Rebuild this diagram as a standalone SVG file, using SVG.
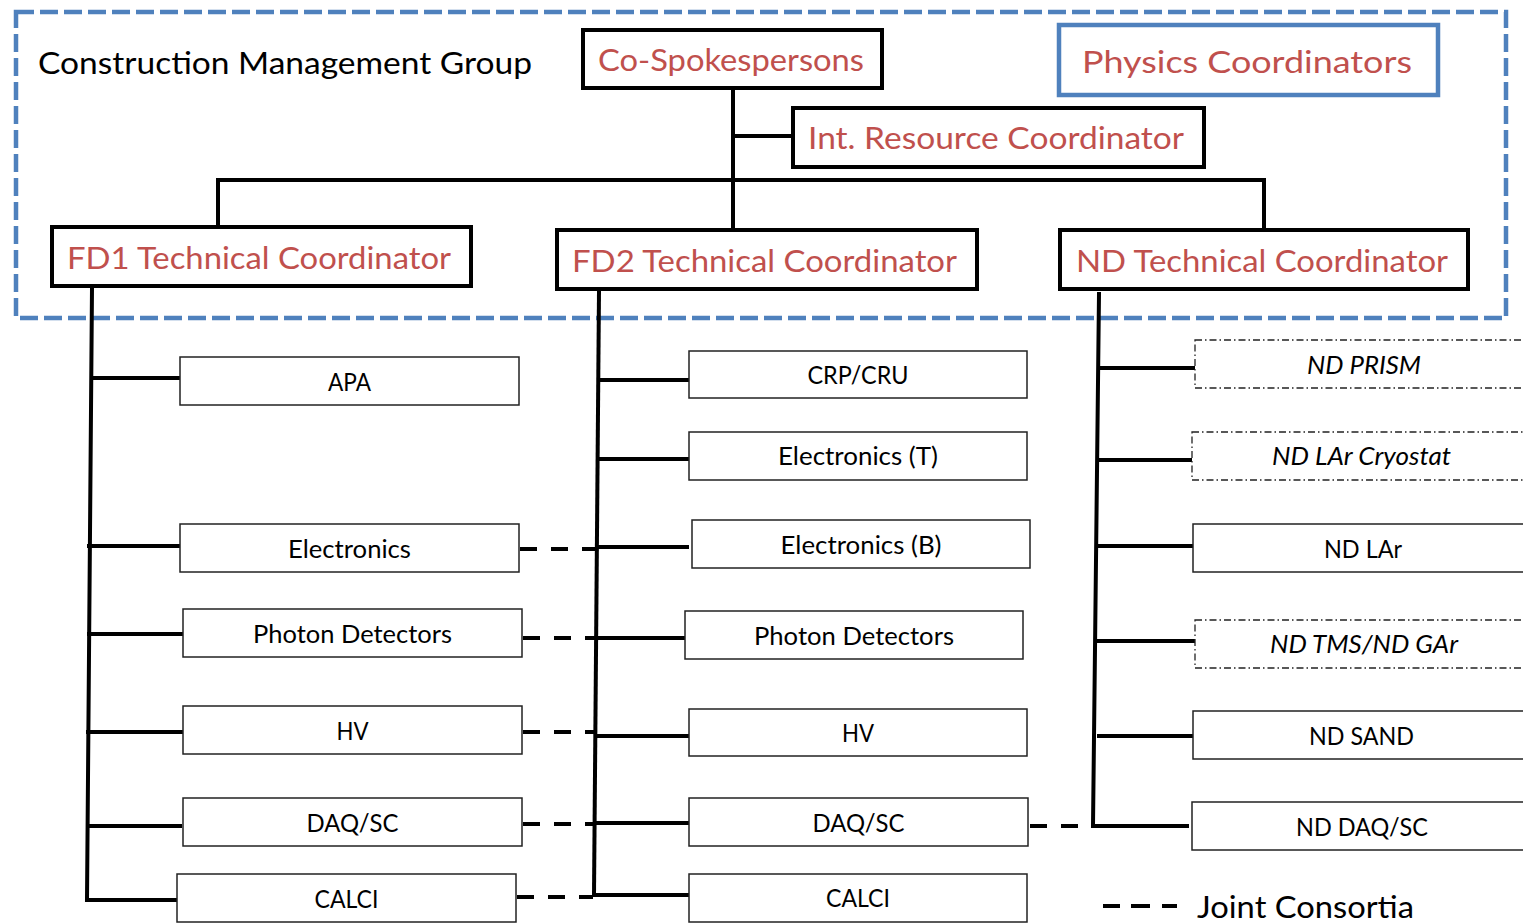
<svg xmlns="http://www.w3.org/2000/svg" width="1523" height="923" viewBox="0 0 1523 923">
<style>
  .bg { fill: #ffffff; }
  .frame { fill: none; stroke: #4f81bd; stroke-width: 4.5; stroke-dasharray: 18 6; }
  .head { fill: #ffffff; stroke: #000000; stroke-width: 4; }
  .phys { fill: #ffffff; stroke: #4f81bd; stroke-width: 4.5; }
  .child { fill: #ffffff; stroke: #222222; stroke-width: 1.5; }
  .childdd { fill: #ffffff; stroke: #222222; stroke-width: 1.3; stroke-dasharray: 7 3 1.5 3; }
  .ht { font-family: Lato, "Open Sans", "Liberation Sans", sans-serif; font-size: 31px; fill: #c0504d; }
  .bt { font-family: Lato, "Open Sans", "Liberation Sans", sans-serif; font-size: 31px; fill: #000000; }
  .ct { font-family: Lato, "Open Sans", "Liberation Sans", sans-serif; font-size: 25px; fill: #000000; text-anchor: middle; }
  .it { font-style: italic; }
  .ln { fill: none; stroke: #000000; stroke-width: 4; stroke-linecap: square; }
  .jc { fill: none; stroke: #000000; stroke-width: 4; stroke-dasharray: 17 14; }
</style>
<rect class="bg" x="0" y="0" width="1523" height="923"/>

<g id="cmg">
  <rect class="frame" x="16" y="12" width="1490" height="306"/>
  <text class="bt" x="38" y="74" textLength="494" lengthAdjust="spacingAndGlyphs">Construction Management Group</text>
</g>

<g id="connectors">
  <!-- top tree -->
  <path class="ln" d="M733 88 V228"/>
  <path class="ln" d="M735 136 H793"/>
  <path class="ln" d="M218 226 V180 H1264 V229"/>
  <!-- FD1 -->
  <path class="ln" d="M92 288 L87 900 H177"/>
  <path class="ln" d="M92 378 H182"/>
  <path class="ln" d="M89 546 H180"/>
  <path class="ln" d="M89 634 H182"/>
  <path class="ln" d="M88 732 H183"/>
  <path class="ln" d="M88 826 H180"/>
  <!-- FD2 -->
  <path class="ln" d="M599 291 L594 895"/>
  <path class="ln" d="M599 380 H689"/>
  <path class="ln" d="M598 459 H689"/>
  <path class="ln" d="M597 547 H687"/>
  <path class="ln" d="M597 638 H685"/>
  <path class="ln" d="M596 736 H689"/>
  <path class="ln" d="M595 823 H689"/>
  <path class="ln" d="M598 895 H689"/>
  <!-- ND -->
  <path class="ln" d="M1099 294 L1093 826 H1187"/>
  <path class="ln" d="M1102 368 H1195"/>
  <path class="ln" d="M1099 460 H1192"/>
  <path class="ln" d="M1099 546 H1193"/>
  <path class="ln" d="M1098 641 H1195"/>
  <path class="ln" d="M1099 736 H1193"/>
  <!-- joint consortia -->
  <path class="jc" d="M520 549 H597"/>
  <path class="jc" d="M523 638 H597"/>
  <path class="jc" d="M523 732 H596"/>
  <path class="jc" d="M523 824 H595"/>
  <path class="jc" d="M517 897 H593"/>
  <path class="jc" d="M1030 826 H1092"/>
</g>

<g id="co-spokespersons">
  <rect class="head" x="583" y="30" width="299" height="58"/>
  <text class="ht" x="598" y="71" textLength="266" lengthAdjust="spacingAndGlyphs">Co-Spokespersons</text>
</g>
<g id="physics-coordinators">
  <rect class="phys" x="1059" y="25" width="379" height="70"/>
  <text class="ht" x="1082" y="73" textLength="330" lengthAdjust="spacingAndGlyphs">Physics Coordinators</text>
</g>
<g id="int-resource-coordinator">
  <rect class="head" x="793" y="108" width="411" height="59"/>
  <text class="ht" x="808" y="149" textLength="376" lengthAdjust="spacingAndGlyphs">Int. Resource Coordinator</text>
</g>
<g id="fd1-tc">
  <rect class="head" x="52" y="227" width="419" height="59"/>
  <text class="ht" x="67" y="269" textLength="384" lengthAdjust="spacingAndGlyphs">FD1 Technical Coordinator</text>
</g>
<g id="fd2-tc">
  <rect class="head" x="557" y="230" width="420" height="59"/>
  <text class="ht" x="572" y="272" textLength="385" lengthAdjust="spacingAndGlyphs">FD2 Technical Coordinator</text>
</g>
<g id="nd-tc">
  <rect class="head" x="1060" y="230" width="408" height="59"/>
  <text class="ht" x="1076" y="272" textLength="372" lengthAdjust="spacingAndGlyphs">ND Technical Coordinator</text>
</g>

<!-- FD1 children -->
<g id="fd1-apa"><rect class="child" x="180" y="357" width="339" height="48"/><text class="ct" x="349.5" y="391" textLength="43" lengthAdjust="spacingAndGlyphs">APA</text></g>
<g id="fd1-electronics"><rect class="child" x="180" y="524" width="339" height="48"/><text class="ct" x="349.5" y="558" textLength="123" lengthAdjust="spacingAndGlyphs">Electronics</text></g>
<g id="fd1-pd"><rect class="child" x="183" y="609" width="339" height="48"/><text class="ct" x="352.5" y="643" textLength="199" lengthAdjust="spacingAndGlyphs">Photon Detectors</text></g>
<g id="fd1-hv"><rect class="child" x="183" y="706" width="339" height="48"/><text class="ct" x="352.5" y="740" textLength="32" lengthAdjust="spacingAndGlyphs">HV</text></g>
<g id="fd1-daq"><rect class="child" x="183" y="798" width="339" height="48"/><text class="ct" x="352.5" y="832" textLength="92" lengthAdjust="spacingAndGlyphs">DAQ/SC</text></g>
<g id="fd1-calci"><rect class="child" x="177" y="874" width="339" height="48"/><text class="ct" x="346.5" y="908" textLength="64" lengthAdjust="spacingAndGlyphs">CALCI</text></g>

<!-- FD2 children -->
<g id="fd2-crp"><rect class="child" x="689" y="351" width="338" height="47"/><text class="ct" x="858" y="384" textLength="101" lengthAdjust="spacingAndGlyphs">CRP/CRU</text></g>
<g id="fd2-elt"><rect class="child" x="689" y="432" width="338" height="48"/><text class="ct" x="858" y="465" textLength="160" lengthAdjust="spacingAndGlyphs">Electronics (T)</text></g>
<g id="fd2-elb"><rect class="child" x="692" y="520" width="338" height="48"/><text class="ct" x="861" y="554" textLength="161" lengthAdjust="spacingAndGlyphs">Electronics (B)</text></g>
<g id="fd2-pd"><rect class="child" x="685" y="611" width="338" height="48"/><text class="ct" x="854" y="645" textLength="200" lengthAdjust="spacingAndGlyphs">Photon Detectors</text></g>
<g id="fd2-hv"><rect class="child" x="689" y="709" width="338" height="47"/><text class="ct" x="858" y="742" textLength="32" lengthAdjust="spacingAndGlyphs">HV</text></g>
<g id="fd2-daq"><rect class="child" x="689" y="798" width="339" height="48"/><text class="ct" x="858.5" y="832" textLength="92" lengthAdjust="spacingAndGlyphs">DAQ/SC</text></g>
<g id="fd2-calci"><rect class="child" x="689" y="874" width="338" height="48"/><text class="ct" x="858" y="907" textLength="64" lengthAdjust="spacingAndGlyphs">CALCI</text></g>

<!-- ND children -->
<g id="nd-prism"><rect class="childdd" x="1195" y="340" width="400" height="48"/><text class="ct it" x="1364" y="374" textLength="114" lengthAdjust="spacingAndGlyphs">ND PRISM</text></g>
<g id="nd-cryostat"><rect class="childdd" x="1192" y="432" width="400" height="48"/><text class="ct it" x="1361.5" y="465" textLength="179" lengthAdjust="spacingAndGlyphs">ND LAr Cryostat</text></g>
<g id="nd-lar"><rect class="child" x="1193" y="524" width="400" height="48"/><text class="ct" x="1363" y="558" textLength="78" lengthAdjust="spacingAndGlyphs">ND LAr</text></g>
<g id="nd-tms"><rect class="childdd" x="1195" y="620" width="400" height="48"/><text class="ct it" x="1364" y="653" textLength="188" lengthAdjust="spacingAndGlyphs">ND TMS/ND GAr</text></g>
<g id="nd-sand"><rect class="child" x="1193" y="711" width="400" height="48"/><text class="ct" x="1361.5" y="745" textLength="105" lengthAdjust="spacingAndGlyphs">ND SAND</text></g>
<g id="nd-daq"><rect class="child" x="1192" y="802" width="400" height="48"/><text class="ct" x="1362" y="836" textLength="132" lengthAdjust="spacingAndGlyphs">ND DAQ/SC</text></g>

<g id="legend">
  <path fill="none" stroke="#000000" stroke-width="4" d="M1103 906 H1120 M1131 906 H1150 M1162 906 H1177"/>
  <text class="bt" x="1197" y="918" textLength="217" lengthAdjust="spacingAndGlyphs">Joint Consortia</text>
</g>
</svg>
